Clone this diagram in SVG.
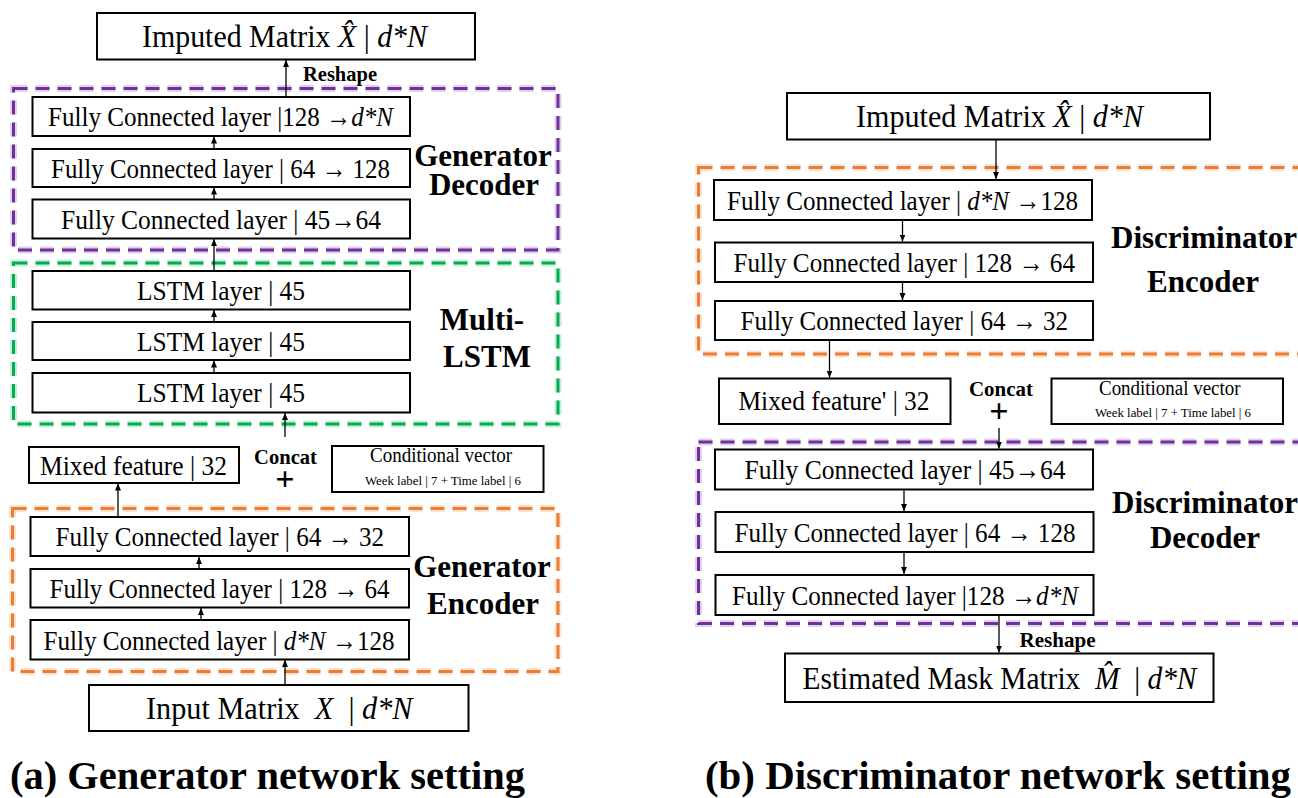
<svg xmlns="http://www.w3.org/2000/svg" width="1298" height="798" viewBox="0 0 1298 798">
  <style>
    .bg { fill: #ffffff; }
    .box { fill: #ffffff; stroke: #000000; stroke-width: 2; }
    .grp { fill: none; stroke-width: 3; stroke-dasharray: 14 8; }
    .halo { fill: none; stroke-width: 7; stroke-dasharray: 14 8; opacity: 0.22; }
    .purple { stroke: #7030A0; }
    .green { stroke: #00B050; }
    .orange { stroke: #ED7D31; }
    .t { font-family: "Liberation Serif", "Times New Roman", serif; font-size: 28px; fill: #000; }
    .big { font-size: 32px; }
    .it { font-style: italic; }
    .lbl { font-family: "Liberation Serif", "Times New Roman", serif; font-weight: bold; fill: #000; font-size: 31px; }
    .small { font-family: "Liberation Serif", "Times New Roman", serif; font-weight: bold; fill: #000; font-size: 21px; }
    .cv { font-family: "Liberation Serif", "Times New Roman", serif; fill: #000; font-size: 20px; }
    .cvs { font-family: "Liberation Serif", "Times New Roman", serif; fill: #000; font-size: 13px; }
    .cap { font-family: "Liberation Serif", "Times New Roman", serif; font-weight: bold; fill: #000; font-size: 41px; }
    .plus { font-family: "Liberation Serif", "Times New Roman", serif; font-weight: bold; fill: #000; font-size: 34px; }
    .link { stroke: #000; stroke-width: 1.3; fill: none; marker-end: url(#arr); }
  </style>
  <defs>
    <marker id="arr" markerWidth="8" markerHeight="8" refX="7" refY="4" orient="auto" markerUnits="userSpaceOnUse">
      <path d="M0,1 L7,4 L0,7 Z" fill="#000"/>
    </marker>
  </defs>

  <rect class="bg" x="0" y="0" width="1298" height="798"/>

  <!-- ===== (a) Generator ===== -->
  <g id="gen-groups">
    <rect class="halo purple" x="13.5" y="88.5" width="544.5" height="161.5"/>
    <rect class="grp purple" x="13.5" y="88.5" width="544.5" height="161.5"/>
    <rect class="halo green" x="13.5" y="263" width="544.5" height="161"/>
    <rect class="grp green" x="13.5" y="263" width="544.5" height="161"/>
    <rect class="halo orange" x="12.5" y="508.5" width="545.5" height="163"/>
    <rect class="grp orange" x="12.5" y="508.5" width="545.5" height="163"/>
  </g>

  <g id="gen-output">
    <rect class="box" x="97" y="13" width="378" height="46.5"/>
    <text class="t big" x="142" y="47" textLength="285" lengthAdjust="spacingAndGlyphs">Imputed Matrix <tspan class="it">X&#x302;</tspan> | <tspan class="it">d*N</tspan></text>
  </g>

  <g id="gen-dec-3">
    <rect class="box" x="32.5" y="97" width="377.5" height="39"/>
    <text class="t" x="48" y="126" textLength="345" lengthAdjust="spacingAndGlyphs">Fully Connected layer |128 →<tspan class="it">d*N</tspan></text>
  </g>
  <g id="gen-dec-2">
    <rect class="box" x="32.5" y="149" width="377.5" height="38"/>
    <text class="t" x="51" y="177.5" textLength="339" lengthAdjust="spacingAndGlyphs">Fully Connected layer | 64 → 128</text>
  </g>
  <g id="gen-dec-1">
    <rect class="box" x="32.5" y="199.5" width="377.5" height="39"/>
    <text class="t" x="61" y="228.5" textLength="320" lengthAdjust="spacingAndGlyphs">Fully Connected layer | 45→64</text>
  </g>
  <g id="gen-dec-label">
    <text class="lbl" x="483" y="166" text-anchor="middle">Generator</text>
    <text class="lbl" x="484" y="195" text-anchor="middle">Decoder</text>
  </g>

  <g id="gen-lstm-3">
    <rect class="box" x="32.5" y="271" width="377.5" height="38.5"/>
    <text class="t" x="137" y="299.5" textLength="168" lengthAdjust="spacingAndGlyphs">LSTM layer | 45</text>
  </g>
  <g id="gen-lstm-2">
    <rect class="box" x="32.5" y="322" width="377.5" height="38"/>
    <text class="t" x="137" y="350.5" textLength="168" lengthAdjust="spacingAndGlyphs">LSTM layer | 45</text>
  </g>
  <g id="gen-lstm-1">
    <rect class="box" x="32.5" y="373" width="377.5" height="39.5"/>
    <text class="t" x="137" y="402" textLength="168" lengthAdjust="spacingAndGlyphs">LSTM layer | 45</text>
  </g>
  <g id="gen-lstm-label">
    <text class="lbl" x="482" y="330" text-anchor="middle">Multi-</text>
    <text class="lbl" x="487" y="367" text-anchor="middle">LSTM</text>
  </g>

  <g id="gen-mixed">
    <rect class="box" x="29" y="447" width="210" height="36"/>
    <text class="t" x="40" y="475" textLength="187" lengthAdjust="spacingAndGlyphs">Mixed feature | 32</text>
  </g>
  <g id="gen-concat">
    <text class="small" x="254" y="464" textLength="63" lengthAdjust="spacingAndGlyphs">Concat</text>
    <text class="plus" x="285" y="490" text-anchor="middle">+</text>
  </g>
  <g id="gen-cond">
    <rect class="box" x="332" y="446" width="211.5" height="46"/>
    <text class="cv" x="370" y="462" textLength="142" lengthAdjust="spacingAndGlyphs">Conditional vector</text>
    <text class="cvs" x="365" y="485" textLength="156" lengthAdjust="spacingAndGlyphs">Week label | 7 + Time label | 6</text>
  </g>

  <g id="gen-enc-3">
    <rect class="box" x="30.5" y="517" width="378.5" height="39"/>
    <text class="t" x="55.5" y="546" textLength="328.5" lengthAdjust="spacingAndGlyphs">Fully Connected layer | 64 → 32</text>
  </g>
  <g id="gen-enc-2">
    <rect class="box" x="30.5" y="569" width="378.5" height="38.5"/>
    <text class="t" x="49.5" y="598" textLength="340" lengthAdjust="spacingAndGlyphs">Fully Connected layer | 128 → 64</text>
  </g>
  <g id="gen-enc-1">
    <rect class="box" x="30.5" y="620" width="378.5" height="39.5"/>
    <text class="t" x="43.5" y="649.5" textLength="351" lengthAdjust="spacingAndGlyphs">Fully Connected layer | <tspan class="it">d*N</tspan> →128</text>
  </g>
  <g id="gen-enc-label">
    <text class="lbl" x="482" y="577" text-anchor="middle">Generator</text>
    <text class="lbl" x="483" y="614" text-anchor="middle">Encoder</text>
  </g>

  <g id="gen-input">
    <rect class="box" x="89" y="685" width="379.5" height="46"/>
    <text class="t big" x="146" y="718.5" textLength="266.5" lengthAdjust="spacingAndGlyphs">Input Matrix&#160; <tspan class="it">X</tspan>&#160; | <tspan class="it">d*N</tspan></text>
  </g>

  <g id="gen-links">
    <line class="link" x1="285" y1="685" x2="285" y2="660"/>
    <line class="link" x1="201" y1="620" x2="201" y2="608"/>
    <line class="link" x1="199" y1="569" x2="199" y2="557"/>
    <line class="link" x1="118" y1="517" x2="118" y2="483.5"/>
    <line class="link" x1="285" y1="437" x2="285" y2="413"/>
    <line class="link" x1="214" y1="373" x2="214" y2="360.5"/>
    <line class="link" x1="214" y1="322" x2="214" y2="310"/>
    <line class="link" x1="214" y1="271" x2="214" y2="239"/>
    <line class="link" x1="214" y1="199.5" x2="214" y2="187.5"/>
    <line class="link" x1="214" y1="149" x2="214" y2="136.5"/>
    <line class="link" x1="286" y1="97" x2="286" y2="60"/>
    <text class="small" x="303" y="81" textLength="74" lengthAdjust="spacingAndGlyphs">Reshape</text>
  </g>

  <!-- ===== (b) Discriminator ===== -->
  <g id="dis-groups">
    <rect class="halo orange" x="698.5" y="167.5" width="620" height="186.5"/>
    <rect class="grp orange" x="698.5" y="167.5" width="620" height="186.5"/>
    <rect class="halo purple" x="698.5" y="442" width="620" height="181.5"/>
    <rect class="grp purple" x="698.5" y="442" width="620" height="181.5"/>
  </g>

  <g id="dis-input">
    <rect class="box" x="787" y="93" width="423" height="46.5"/>
    <text class="t big" x="856" y="127" textLength="287" lengthAdjust="spacingAndGlyphs">Imputed Matrix <tspan class="it">X&#x302;</tspan> | <tspan class="it">d*N</tspan></text>
  </g>

  <g id="dis-enc-1">
    <rect class="box" x="714" y="180" width="378" height="40"/>
    <text class="t" x="727" y="209.5" textLength="351" lengthAdjust="spacingAndGlyphs">Fully Connected layer | <tspan class="it">d*N</tspan> →128</text>
  </g>
  <g id="dis-enc-2">
    <rect class="box" x="715" y="242.5" width="378" height="39.5"/>
    <text class="t" x="733.5" y="271.5" textLength="341.5" lengthAdjust="spacingAndGlyphs">Fully Connected layer | 128 → 64</text>
  </g>
  <g id="dis-enc-3">
    <rect class="box" x="715" y="301" width="378" height="39"/>
    <text class="t" x="740.5" y="330" textLength="327.5" lengthAdjust="spacingAndGlyphs">Fully Connected layer | 64 → 32</text>
  </g>
  <g id="dis-enc-label">
    <text class="lbl" x="1204" y="248" text-anchor="middle">Discriminator</text>
    <text class="lbl" x="1203" y="292" text-anchor="middle">Encoder</text>
  </g>

  <g id="dis-mixed">
    <rect class="box" x="719" y="378.5" width="231.5" height="45.5"/>
    <text class="t" x="738.5" y="410" textLength="191" lengthAdjust="spacingAndGlyphs">Mixed feature' | 32</text>
  </g>
  <g id="dis-concat">
    <text class="small" x="969" y="396" textLength="64" lengthAdjust="spacingAndGlyphs">Concat</text>
    <text class="plus" x="999" y="421.5" text-anchor="middle">+</text>
  </g>
  <g id="dis-cond">
    <rect class="box" x="1051.5" y="378.5" width="231.5" height="45.5"/>
    <text class="cv" x="1099" y="395" textLength="141.5" lengthAdjust="spacingAndGlyphs">Conditional vector</text>
    <text class="cvs" x="1095" y="416.5" textLength="156" lengthAdjust="spacingAndGlyphs">Week label | 7 + Time label | 6</text>
  </g>

  <g id="dis-dec-1">
    <rect class="box" x="715" y="449.5" width="378" height="40"/>
    <text class="t" x="744.5" y="479" textLength="321" lengthAdjust="spacingAndGlyphs">Fully Connected layer | 45→64</text>
  </g>
  <g id="dis-dec-2">
    <rect class="box" x="715.5" y="512" width="378" height="40"/>
    <text class="t" x="734.5" y="541.5" textLength="341" lengthAdjust="spacingAndGlyphs">Fully Connected layer | 64 → 128</text>
  </g>
  <g id="dis-dec-3">
    <rect class="box" x="715.5" y="575" width="378" height="40"/>
    <text class="t" x="732" y="604.5" textLength="346" lengthAdjust="spacingAndGlyphs">Fully Connected layer |128 →<tspan class="it">d*N</tspan></text>
  </g>
  <g id="dis-dec-label">
    <text class="lbl" x="1205" y="513" text-anchor="middle">Discriminator</text>
    <text class="lbl" x="1205" y="548" text-anchor="middle">Decoder</text>
  </g>

  <g id="dis-output">
    <rect class="box" x="785" y="653.5" width="428.5" height="48.5"/>
    <text class="t big" x="802.5" y="688.5" textLength="394" lengthAdjust="spacingAndGlyphs">Estimated Mask Matrix&#160; <tspan class="it">M&#x302;</tspan>&#160; | <tspan class="it">d*N</tspan></text>
  </g>

  <g id="dis-links">
    <line class="link" x1="996" y1="139.5" x2="996" y2="179"/>
    <line class="link" x1="902.5" y1="220" x2="902.5" y2="241.5"/>
    <line class="link" x1="902.5" y1="282" x2="902.5" y2="300"/>
    <line class="link" x1="829.5" y1="340" x2="829.5" y2="377.5"/>
    <line class="link" x1="999" y1="428" x2="999" y2="448.5"/>
    <line class="link" x1="904" y1="489.5" x2="904" y2="511"/>
    <line class="link" x1="904" y1="552" x2="904" y2="574"/>
    <line class="link" x1="999" y1="615" x2="999" y2="652.5"/>
    <text class="small" x="1019.5" y="647" textLength="76" lengthAdjust="spacingAndGlyphs">Reshape</text>
  </g>

  <g id="captions">
    <text class="cap" x="10" y="789" textLength="515" lengthAdjust="spacingAndGlyphs">(a) Generator network setting</text>
    <text class="cap" x="705" y="789" textLength="586" lengthAdjust="spacingAndGlyphs">(b) Discriminator network setting</text>
  </g>
</svg>
